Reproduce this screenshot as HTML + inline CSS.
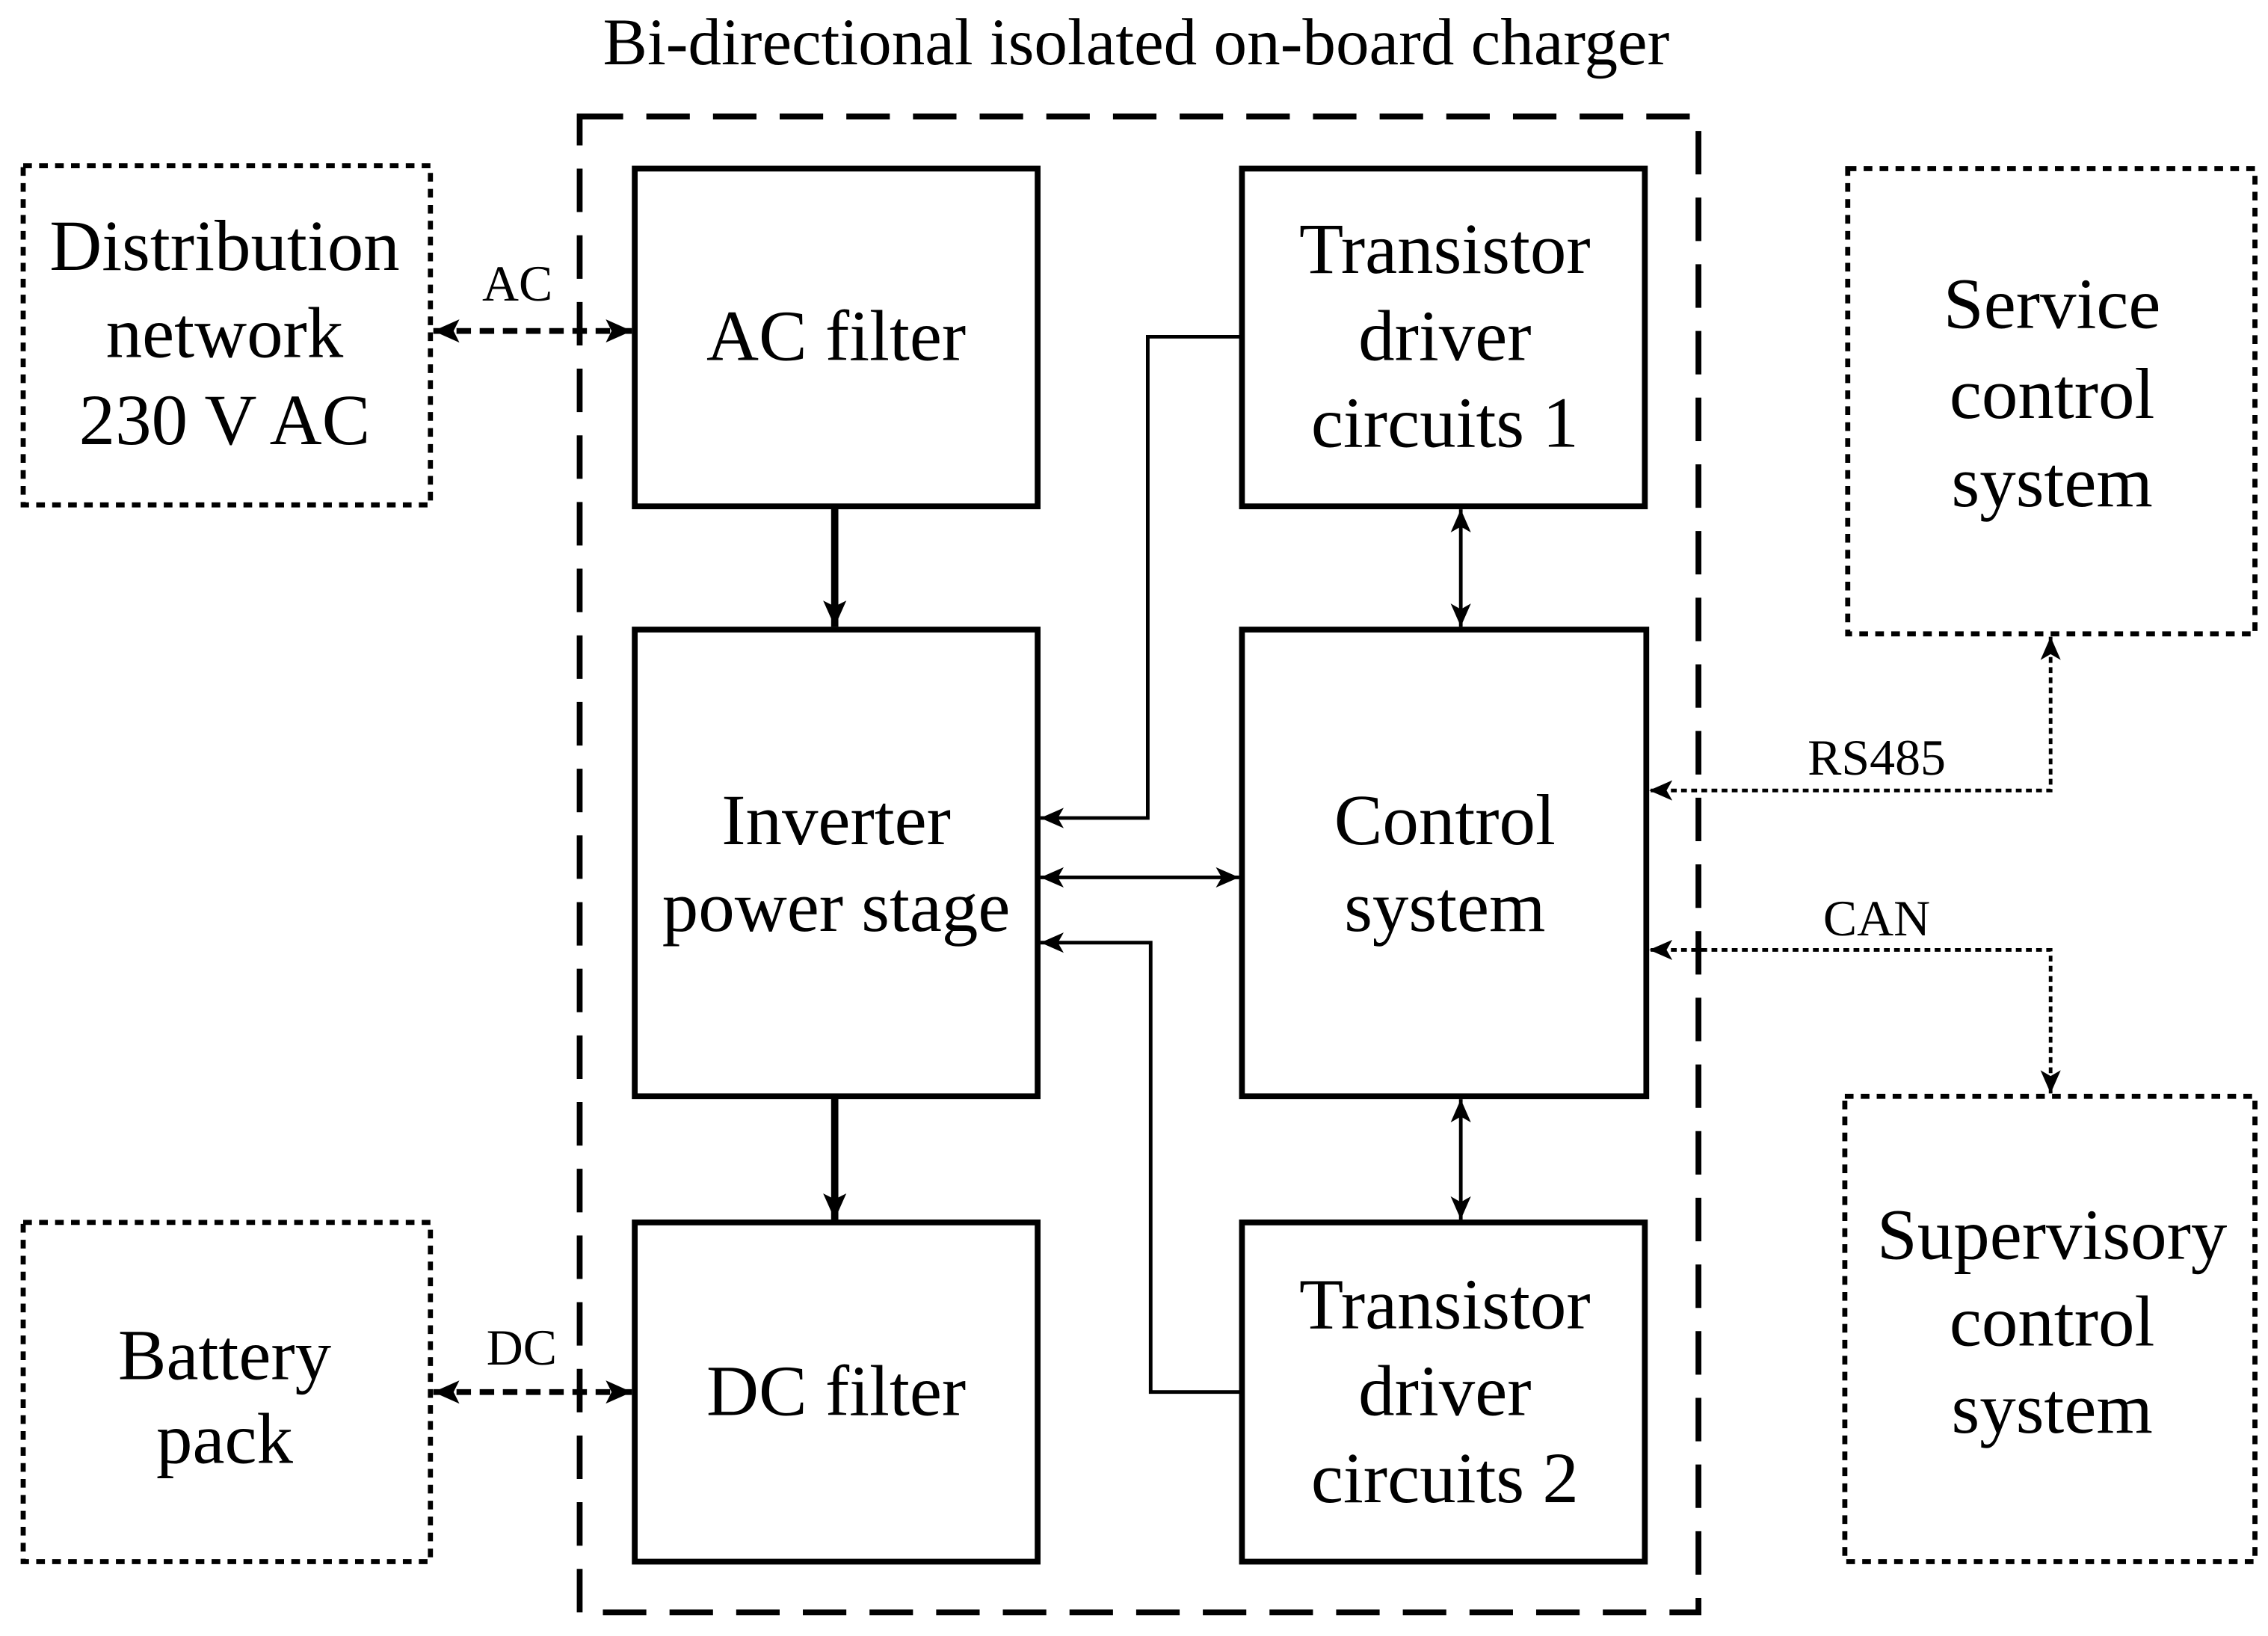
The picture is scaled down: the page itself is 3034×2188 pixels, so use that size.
<!DOCTYPE html>
<html><head><meta charset="utf-8"><style>
html,body{margin:0;padding:0;background:#fff;}
svg{display:block;}
text{font-family:"Liberation Serif",serif;fill:#000;}
</style></head><body>
<svg width="3034" height="2188" viewBox="0 0 1565 1128" xmlns="http://www.w3.org/2000/svg">
<defs>
<marker id="ahb" markerWidth="20" markerHeight="20" refX="18" refY="10" orient="auto-start-reverse" markerUnits="userSpaceOnUse" viewBox="0 0 20 20">
<path d="M0,2 L18,10 L0,18 L4,10 z" fill="#000"/></marker>
<marker id="ahs" markerWidth="18" markerHeight="18" refX="16" refY="9" orient="auto-start-reverse" markerUnits="userSpaceOnUse" viewBox="0 0 18 18">
<path d="M0,2 L16,9 L0,16 L4,9 z" fill="#000"/></marker>
</defs>
<rect width="1565" height="1128" fill="#fff"/>
<text x="784" y="44" font-size="46" text-anchor="middle">Bi-directional isolated on-board charger</text>
<rect x="400" y="80" width="772" height="1032" fill="none" stroke="#000" stroke-width="4" stroke-dasharray="30,16"/>
<g fill="none" stroke="#000" stroke-width="4">
<rect x="438" y="116" width="278" height="233"/>
<rect x="438" y="434" width="278" height="322"/>
<rect x="438" y="843" width="278" height="234"/>
<rect x="857" y="116" width="278" height="233"/>
<rect x="857" y="434" width="279" height="322"/>
<rect x="857" y="843" width="278" height="234"/>
</g>
<g fill="none" stroke="#000" stroke-width="3.5" stroke-dasharray="6,5">
<rect x="16" y="114" width="281" height="234"/>
<rect x="16" y="843" width="281" height="234"/>
<rect x="1275" y="116" width="281" height="321"/>
<rect x="1273" y="756" width="283" height="321"/>
</g>
<g font-size="50" text-anchor="middle">
<text x="155" y="186">Distribution</text>
<text x="155" y="246">network</text>
<text x="155" y="306">230 V AC</text>
<text x="155" y="951">Battery</text>
<text x="155" y="1009">pack</text>
<text x="577" y="248">AC filter</text>
<text x="577" y="582">Inverter</text>
<text x="577" y="642">power stage</text>
<text x="577" y="976">DC filter</text>
<text x="997" y="188">Transistor</text>
<text x="997" y="248">driver</text>
<text x="997" y="308">circuits 1</text>
<text x="997" y="582">Control</text>
<text x="997" y="642">system</text>
<text x="997" y="916">Transistor</text>
<text x="997" y="976">driver</text>
<text x="997" y="1036">circuits 2</text>
<text x="1416" y="226">Service</text>
<text x="1416" y="288">control</text>
<text x="1416" y="349">system</text>
<text x="1416" y="868">Supervisory</text>
<text x="1416" y="928">control</text>
<text x="1416" y="988">system</text>
</g>
<g font-size="35" text-anchor="middle">
<text x="357" y="207">AC</text>
<text x="360" y="941">DC</text>
<text x="1295" y="534">RS485</text>
<text x="1295" y="645">CAN</text>
</g>
<g stroke="#000" stroke-width="4" fill="none" stroke-dasharray="10,6">
<line x1="299" y1="228" x2="436" y2="228" marker-start="url(#ahb)" marker-end="url(#ahb)"/>
<line x1="299" y1="960" x2="436" y2="960" marker-start="url(#ahb)" marker-end="url(#ahb)"/>
</g>
<g stroke="#000" stroke-width="5" fill="none">
<line x1="576" y1="349" x2="576" y2="432" marker-end="url(#ahb)"/>
<line x1="576" y1="756" x2="576" y2="841" marker-end="url(#ahb)"/>
</g>
<g stroke="#000" stroke-width="2.5" fill="none">
<polyline points="857,232 792,232 792,564 718,564" marker-end="url(#ahs)"/>
<polyline points="857,960 794,960 794,650 718,650" marker-end="url(#ahs)"/>
<line x1="718" y1="605" x2="855" y2="605" marker-start="url(#ahs)" marker-end="url(#ahs)"/>
<line x1="1008" y1="351" x2="1008" y2="432" marker-start="url(#ahs)" marker-end="url(#ahs)"/>
<line x1="1008" y1="758" x2="1008" y2="841" marker-start="url(#ahs)" marker-end="url(#ahs)"/>
</g>
<g stroke="#000" stroke-width="2.5" fill="none" stroke-dasharray="4,3">
<polyline points="1415,439 1415,545 1138,545" marker-start="url(#ahs)" marker-end="url(#ahs)"/>
<polyline points="1415,754 1415,655 1138,655" marker-start="url(#ahs)" marker-end="url(#ahs)"/>
</g>
</svg>
</body></html>
